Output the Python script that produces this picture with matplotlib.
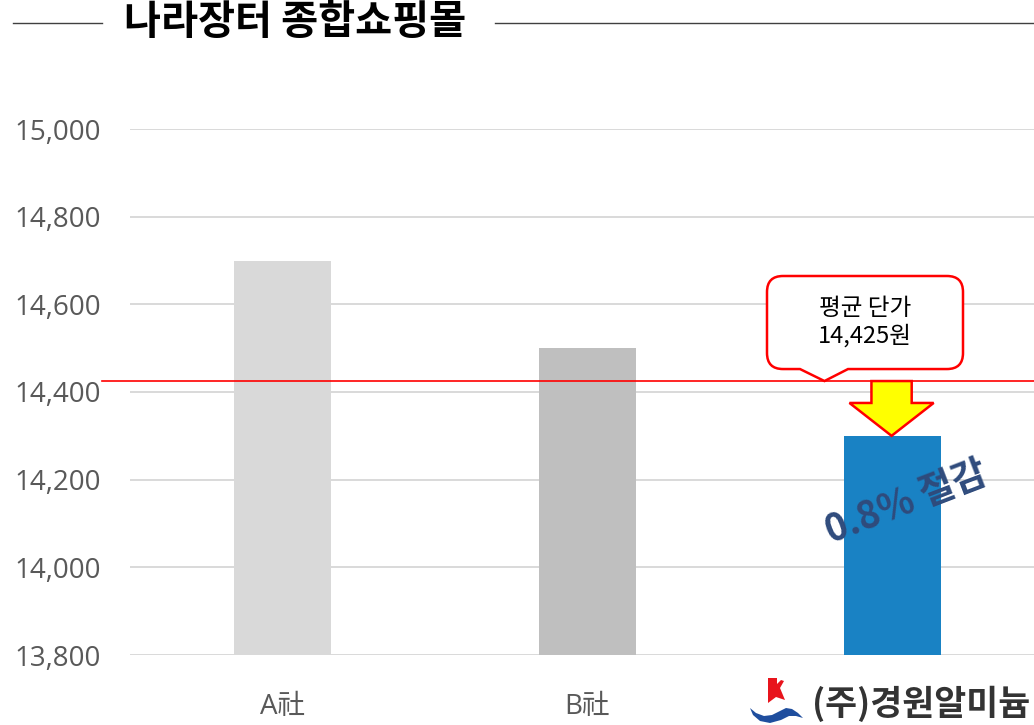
import numpy as np
import matplotlib
matplotlib.use('Agg')
import matplotlib.pyplot as plt
from matplotlib.path import Path
from matplotlib.patches import PathPatch, Polygon
from matplotlib.lines import Line2D
import matplotlib.transforms as mtrans

plt.rcParams['font.family'] = ['Open Sans', 'Noto Sans CJK KR', 'DejaVu Sans']
KR = ['Noto Sans CJK KR', 'DejaVu Sans']

# 업체별 단가
companies = ['A社', 'B社', '']
unit_price = [14700, 14500, 14300]
bar_colors = ['#D9D9D9', '#BFBFBF', '#1982C4']
avg_price = 14425
yticks = [13800, 14000, 14200, 14400, 14600, 14800, 15000]
title = '나라장터 종합쇼핑몰'
callout_text = '평균 단가\n{:,}원'.format(avg_price)
saving_text = '0.8% 절감'
logo_text = '(주)경원알미늄'

W, H = 1034, 725
fig = plt.figure(figsize=(W / 100, H / 100), dpi=100)
ax = fig.add_axes([130 / W, 70 / H, 904 / W, 526 / H])

x = np.arange(len(companies))
ax.bar(x, unit_price, width=0.315, color=bar_colors, zorder=2)
ax.set_xlim(-0.5, 2.464)
ax.set_ylim(yticks[0], yticks[-1])
ax.set_yticks(yticks)
ax.set_yticklabels(['{:,}'.format(v) for v in yticks])
ax.set_xticks(x)
ax.set_xticklabels(companies)
ax.grid(axis='y', color='#D9D9D9', lw=1.4, zorder=0)
for s in ax.spines.values():
    s.set_visible(False)
ax.tick_params(axis='y', length=0, pad=21, labelsize=20, labelcolor='#595959')
ax.tick_params(axis='x', length=0, pad=27, labelsize=20, labelcolor='#595959')

# 평균 단가 선
ax.axhline(avg_price, xmin=-28 / 904, xmax=1, color='red', lw=1.2,
           clip_on=False, zorder=3)

fig.canvas.draw()
ident = mtrans.IdentityTransform()


def to_disp(px, py):
    return (px, H - py)


# 말풍선 (픽셀 좌표, y 아래 방향)
tip_x, tip_y = ax.transData.transform((1.777, avg_price))
tip_y = H - tip_y
left, right, top, bottom, r = 767, 963, 276, tip_y - 12, 16
verts = [
    (left + r, top), (right - r, top), (right, top), (right, top + r),
    (right, bottom - r), (right, bottom), (right - r, bottom),
    (848, bottom), (tip_x, tip_y), (800, bottom),
    (left + r, bottom), (left, bottom), (left, bottom - r),
    (left, top + r), (left, top), (left + r, top), (left + r, top),
]
codes = [Path.MOVETO, Path.LINETO, Path.CURVE3, Path.CURVE3,
         Path.LINETO, Path.CURVE3, Path.CURVE3,
         Path.LINETO, Path.LINETO, Path.LINETO,
         Path.LINETO, Path.CURVE3, Path.CURVE3,
         Path.LINETO, Path.CURVE3, Path.CURVE3, Path.CLOSEPOLY]
bubble = Path([to_disp(*v) for v in verts], codes)
fig.patches.append(PathPatch(bubble, facecolor='white', edgecolor='#FF0000',
                             lw=1.8, transform=ident, figure=fig, zorder=5))
fig.text(865 / W, 1 - (bottom + top) / 2 / H, callout_text, ha='center',
         va='center', fontsize=17, color='black', linespacing=1.2,
         family=KR, zorder=6)

# 절감 화살표
cx = 1.997
arrow = [(cx - 0.066, avg_price), (cx + 0.066, avg_price),
         (cx + 0.066, 14375), (cx + 0.138, 14375), (cx, unit_price[2]),
         (cx - 0.138, 14375), (cx - 0.066, 14375)]
ax.add_patch(Polygon(arrow, closed=True, facecolor='#FFFF00',
                     edgecolor='#FF0000', lw=1.8, zorder=4, clip_on=False))

ax.text(2.045, 14150, saving_text, rotation=21, ha='center', va='center',
        fontsize=27, fontweight='bold', color='#2F4B7C', family=KR, zorder=5)

# 제목
fig.text(295 / W, 1 - 22 / H, title, ha='center', va='center',
         fontsize=29, fontweight='heavy', color='black', family=KR)
fig.add_artist(Line2D([13 / W, 102 / W], [1 - 23 / H] * 2, color='#404040', lw=1))
fig.add_artist(Line2D([495 / W, 1], [1 - 23 / H] * 2, color='#404040', lw=1))

# 로고
red_mark = [(768, 678), (777, 678), (777, 684), (781, 680), (784, 681),
            (780, 688), (785, 700), (776, 697), (768, 703)]
blue_mark = [(750, 708), (756, 713), (764, 716), (772, 715), (780, 711),
             (786, 708), (792, 709), (798, 713), (803, 718), (796, 716),
             (789, 716), (781, 720), (770, 723), (760, 721), (753, 715)]
fig.patches.append(Polygon([to_disp(*p) for p in red_mark], closed=True,
                           facecolor='#E8141C', edgecolor='none',
                           transform=ident, figure=fig))
fig.patches.append(Polygon([to_disp(*p) for p in blue_mark], closed=True,
                           facecolor='#1F4E9E', edgecolor='none',
                           transform=ident, figure=fig))
fig.text(921 / W, 1 - 704 / H, logo_text, ha='center', va='center',
         fontsize=25, fontweight='bold', color='#333333', family=KR)

fig.savefig('out.png', dpi=100)
